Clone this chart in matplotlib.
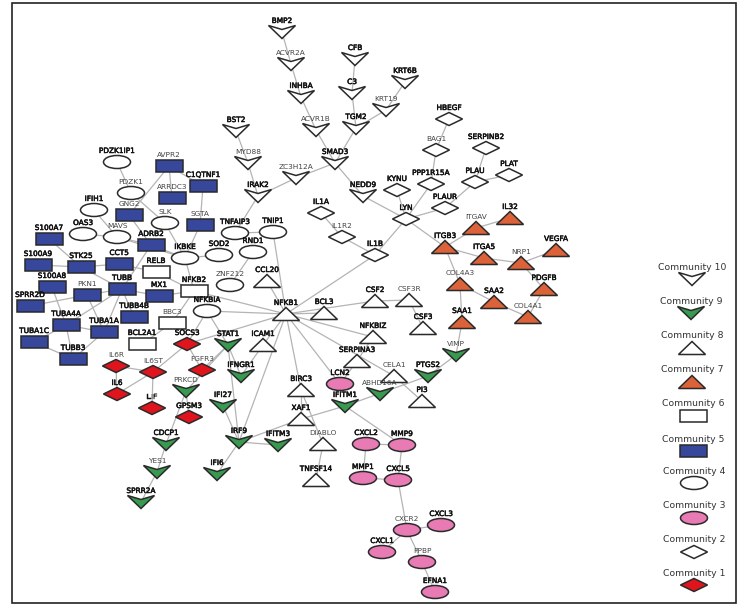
import matplotlib
matplotlib.use("Agg")
import matplotlib.pyplot as plt
import matplotlib.patheffects as pe
from matplotlib.patches import Ellipse, Polygon, Rectangle

# Node layout per community
c1_names = ["SOCS3", "IL6R", "IL6ST", "FGFR3", "IL6", "LIF", "GPSM3"]
c1_x = [187, 116, 153, 202, 117, 152, 189]
c1_y = [344, 366, 372, 370, 394, 408, 417]

c2_names = ["HBEGF", "BAG1", "SERPINB2", "KYNU", "PPP1R15A", "PLAU", "PLAT", "PLAUR", "LYN", "IL1A", "IL1R2", "IL1B"]
c2_x = [449, 436, 486, 397, 431, 475, 509, 445, 406, 321, 342, 375]
c2_y = [119, 150, 148, 190, 184, 182, 175, 208, 219, 213, 237, 255]

c3_names = ["LCN2", "CXCL2", "MMP9", "MMP1", "CXCL5", "CXCR2", "CXCL3", "CXCL1", "PPBP", "EFNA1"]
c3_x = [340, 366, 402, 363, 398, 407, 441, 382, 422, 435]
c3_y = [384, 444, 445, 478, 480, 530, 525, 552, 562, 592]

c4_names = ["PDZK1IP1", "PDZK1", "IFIH1", "SLK", "TNFAIP3", "TNIP1", "OAS3", "MAVS", "SOD2", "IKBKE", "RND1", "ZNF212", "NFKBIA"]
c4_x = [117, 131, 94, 165, 235, 273, 83, 117, 219, 185, 253, 230, 207]
c4_y = [162, 193, 210, 223, 233, 232, 234, 237, 255, 258, 252, 285, 311]

c5_names = ["AVPR2", "C1QTNF1", "ARRDC3", "GNG2", "SGTA", "S100A7", "ADRB2", "S100A9", "CCT5", "STK25",
            "S100A8", "TUBB", "PKN1", "MX1", "SPRR2D", "TUBB4B", "TUBA4A", "TUBA1A", "TUBA1C", "TUBB3"]
c5_x = [169, 203, 172, 129, 200, 49, 151, 38, 119, 81, 52, 122, 87, 159, 30, 134, 66, 104, 34, 73]
c5_y = [166, 186, 198, 215, 225, 239, 245, 265, 264, 267, 287, 289, 295, 296, 306, 317, 325, 332, 342, 359]

c6_names = ["RELB", "NFKB2", "BBC3", "BCL2A1"]
c6_x = [156, 194, 172, 142]
c6_y = [272, 291, 323, 344]

c7_names = ["IL32", "ITGAV", "ITGB3", "VEGFA", "ITGA5", "NRP1", "PDGFB", "COL4A3", "SAA2", "COL4A1", "SAA1"]
c7_x = [510, 476, 445, 556, 484, 521, 544, 460, 494, 528, 462]
c7_y = [218, 228, 247, 250, 258, 263, 289, 284, 302, 317, 322]

c8_names = ["CCL20", "CSF2", "CSF3R", "BCL3", "CSF3", "NFKBIZ", "SERPINA3", "NFKB1", "ICAM1", "CELA1", "PI3",
            "BIRC3", "XAF1", "DIABLO", "TNFSF14"]
c8_x = [267, 375, 409, 324, 423, 373, 357, 286, 263, 394, 422, 301, 301, 323, 316]
c8_y = [281, 301, 300, 313, 328, 337, 361, 314, 345, 376, 401, 390, 419, 444, 480]

c9_names = ["VIMP", "STAT1", "IFNGR1", "PRKCD", "IFI27", "PTGS2", "ABHD16A", "IFITM1", "CDCP1", "IRF9", "IFITM3",
            "YES1", "IFI6", "SPRR2A"]
c9_x = [456, 228, 241, 186, 223, 428, 380, 345, 166, 239, 278, 157, 217, 141]
c9_y = [355, 345, 376, 391, 406, 376, 394, 406, 444, 442, 445, 472, 474, 502]

c10_names = ["BMP2", "ACVR2A", "INHBA", "CFB", "C3", "KRT6B", "KRT19", "ACVR1B", "TGM2", "BST2", "MYD88", "SMAD3",
             "ZC3H12A", "IRAK2", "NEDD9"]
c10_x = [282, 291, 301, 355, 352, 405, 386, 316, 356, 236, 248, 335, 296, 258, 363]
c10_y = [32, 64, 97, 59, 93, 82, 110, 130, 128, 131, 163, 163, 178, 196, 196]

# names drawn in plain grey text, all others are bold
plain_names = ["AVPR2", "PDZK1", "ARRDC3", "GNG2", "SLK", "SGTA", "MAVS", "ZNF212", "PKN1", "BBC3",
               "IL6R", "IL6ST", "FGFR3", "PRKCD", "YES1", "DIABLO", "ACVR2A", "KRT19", "ACVR1B", "MYD88",
               "ZC3H12A", "IL1R2", "BAG1", "ITGAV", "NRP1", "COL4A3", "COL4A1", "VIMP", "CSF3R", "CELA1",
               "ABHD16A", "CXCR2", "PPBP"]

edges = [
    ("BMP2", "ACVR2A"), ("ACVR2A", "INHBA"), ("INHBA", "ACVR1B"), ("ACVR1B", "SMAD3"), ("CFB", "C3"),
    ("C3", "TGM2"), ("TGM2", "SMAD3"), ("TGM2", "KRT19"), ("KRT19", "KRT6B"), ("BST2", "MYD88"),
    ("MYD88", "IRAK2"), ("IRAK2", "ZC3H12A"), ("ZC3H12A", "SMAD3"), ("IRAK2", "TNFAIP3"), ("SMAD3", "NEDD9"),
    ("NEDD9", "LYN"), ("TNFAIP3", "TNIP1"), ("TNIP1", "NFKB1"), ("HBEGF", "BAG1"),
    ("BAG1", "PPP1R15A"), ("PPP1R15A", "LYN"), ("KYNU", "LYN"), ("LYN", "PLAUR"), ("PLAUR", "PLAU"),
    ("PLAU", "SERPINB2"), ("PLAU", "PLAT"), ("LYN", "ITGB3"), ("LYN", "IL1B"), ("IL1A", "IL1R2"),
    ("IL1R2", "IL1B"), ("IL1B", "NFKB1"), ("ITGB3", "ITGAV"), ("ITGAV", "IL32"), ("ITGB3", "ITGA5"),
    ("ITGA5", "NRP1"), ("NRP1", "VEGFA"), ("NRP1", "PDGFB"), ("PDGFB", "COL4A1"), ("COL4A1", "SAA2"),
    ("SAA2", "COL4A3"), ("ITGB3", "COL4A3"), ("COL4A3", "SAA1"), ("SAA1", "VIMP"), ("VIMP", "PTGS2"),
    ("PTGS2", "IFITM1"), ("XAF1", "IFITM1"), ("IFITM1", "MMP9"), ("SERPINA3", "LCN2"), ("NFKB1", "NFKBIZ"),
    ("NFKBIZ", "SERPINA3"), ("NFKB1", "CELA1"), ("CELA1", "PI3"), ("NFKB1", "LCN2"), ("NFKB1", "BIRC3"),
    ("NFKB1", "IRF9"), ("NFKB1", "ICAM1"), ("NFKB1", "SOCS3"), ("NFKB1", "NFKBIA"), ("NFKB1", "NFKB2"),
    ("NFKB1", "CSF2"), ("NFKB1", "BCL3"), ("NFKB1", "CCL20"), ("CSF2", "CSF3R"), ("CSF3R", "CSF3"),
    ("IKBKE", "SOD2"), ("IKBKE", "ADRB2"), ("IKBKE", "SLK"), ("IKBKE", "NFKB2"), ("IKBKE", "SGTA"),
    ("IKBKE", "MAVS"), ("RELB", "NFKB2"), ("RELB", "CCT5"), ("NFKB2", "BBC3"), ("BBC3", "BCL2A1"),
    ("MX1", "NFKB2"), ("NFKBIA", "SOCS3"), ("NFKBIA", "STAT1"), ("SOCS3", "IL6ST"), ("SOCS3", "FGFR3"),
    ("IL6R", "IL6ST"), ("IL6R", "IL6"), ("IL6", "IL6ST"), ("IL6ST", "LIF"), ("STAT1", "IFNGR1"),
    ("STAT1", "FGFR3"), ("STAT1", "PRKCD"), ("STAT1", "IRF9"), ("ICAM1", "IFNGR1"), ("PRKCD", "GPSM3"),
    ("PRKCD", "CDCP1"), ("CDCP1", "YES1"), ("YES1", "SPRR2A"), ("IFI27", "IRF9"), ("IRF9", "IFI6"),
    ("IRF9", "IFITM3"), ("IRF9", "XAF1"), ("BIRC3", "XAF1"), ("BIRC3", "DIABLO"), ("DIABLO", "TNFSF14"),
    ("CXCL2", "MMP9"), ("CXCL2", "MMP1"), ("MMP1", "CXCL5"), ("MMP9", "CXCL5"), ("CXCL5", "CXCR2"),
    ("CXCR2", "CXCL3"), ("CXCR2", "CXCL1"), ("CXCR2", "PPBP"), ("PPBP", "EFNA1"), ("S100A7", "STK25"),
    ("S100A9", "STK25"), ("STK25", "CCT5"), ("STK25", "TUBB"), ("TUBB", "ADRB2"),
    ("TUBB", "MX1"), ("TUBB", "PKN1"), ("PKN1", "SPRR2D"), ("TUBB", "TUBB4B"), ("TUBB", "TUBA1A"),
    ("TUBB", "TUBA4A"), ("TUBA4A", "TUBA1A"), ("PKN1", "TUBA1A"), ("S100A8", "TUBA4A"),
    ("TUBA4A", "TUBB3"), ("TUBA4A", "TUBA1C"), ("TUBA1C", "TUBB3"), ("TUBA1A", "TUBB3"), ("AVPR2", "ARRDC3"),
    ("AVPR2", "GNG2"), ("AVPR2", "C1QTNF1"), ("C1QTNF1", "SGTA"), ("PDZK1IP1", "PDZK1"), ("PDZK1", "SLK"),
    ("GNG2", "ADRB2"), ("IFIH1", "MAVS"), ("OAS3", "MAVS"), ("MAVS", "ADRB2"),
    ("RND1", "ZNF212"),
]

legend_labels = ["Community 10", "Community 9", "Community 8", "Community 7", "Community 6",
                 "Community 5", "Community 4", "Community 3", "Community 2", "Community 1"]
legend_label_x = [692, 691, 692, 692, 693, 693, 694, 694, 694, 694]
legend_label_y = [267, 302, 335, 369, 404, 439, 471, 505, 539, 573]
legend_shape_y = [279, 313, 348, 382, 416, 451, 483, 518, 552, 585]

EDGE_COL = "#b4b4b4"
LINE_COL = "#2a2a2a"
W = 13.5   # half width of a node
H = 6.5    # half height of a node


def add_node(ax, x, y, kind, color):
    if kind == "diamond":
        p = Polygon([(x - W, y), (x, y - H), (x + W, y), (x, y + H)])
    elif kind == "vee":
        p = Polygon([(x - W, y - H), (x, y - 2.5), (x + W, y - H), (x, y + H)])
    elif kind == "tri":
        p = Polygon([(x - W, y + H), (x, y - H), (x + W, y + H)])
    elif kind == "rect":
        p = Rectangle((x - W, y - 6), 2 * W, 12)
    else:
        p = Ellipse((x, y), 2 * W, 2 * H)
    p.set(facecolor=color, edgecolor=LINE_COL, linewidth=1.1, zorder=3)
    ax.add_patch(p)


fig = plt.figure(figsize=(7.49, 6.13), dpi=100)
ax = fig.add_axes([0, 0, 1, 1])
ax.set_xlim(0, 749)
ax.set_ylim(613, 0)
ax.axis("off")

# outer frame
ax.add_patch(Rectangle((11.5, 2.5), 724.5, 600.5, fill=False, edgecolor="#222222", linewidth=1.2))

groups = [
    (c1_names, c1_x, c1_y, "diamond", "#e0141c"),
    (c2_names, c2_x, c2_y, "diamond", "white"),
    (c3_names, c3_x, c3_y, "ellipse", "#e87ab4"),
    (c4_names, c4_x, c4_y, "ellipse", "white"),
    (c5_names, c5_x, c5_y, "rect", "#36479c"),
    (c6_names, c6_x, c6_y, "rect", "white"),
    (c7_names, c7_x, c7_y, "tri", "#dc6339"),
    (c8_names, c8_x, c8_y, "tri", "white"),
    (c9_names, c9_x, c9_y, "vee", "#379a4f"),
    (c10_names, c10_x, c10_y, "vee", "white"),
]

pos = {}
for names, xs, ys, kind, color in groups:
    for n, x, y in zip(names, xs, ys):
        pos[n] = (x, y)

for a, b in edges:
    ax.plot([pos[a][0], pos[b][0]], [pos[a][1], pos[b][1]], color=EDGE_COL, lw=0.9, zorder=1)

for names, xs, ys, kind, color in groups:
    for n, x, y in zip(names, xs, ys):
        add_node(ax, x, y, kind, color)
        if n in plain_names:
            ax.text(x, y - 11, n, ha="center", va="center", fontsize=5.3, color="#444444", zorder=4)
        else:
            t = ax.text(x, y - 11, n, ha="center", va="center", fontsize=5.3, color="#111111", zorder=4)
            t.set_path_effects([pe.withStroke(linewidth=0.35, foreground="#111111")])

# legend, same order as the picture (10 on top)
for i, label in enumerate(legend_labels):
    ax.text(legend_label_x[i], legend_label_y[i], label, ha="center", va="center", fontsize=6.7, color="#333333")
    names, xs, ys, kind, color = groups[9 - i]
    add_node(ax, legend_label_x[i], legend_shape_y[i], kind, color)

fig.savefig("out.png", dpi=100)
